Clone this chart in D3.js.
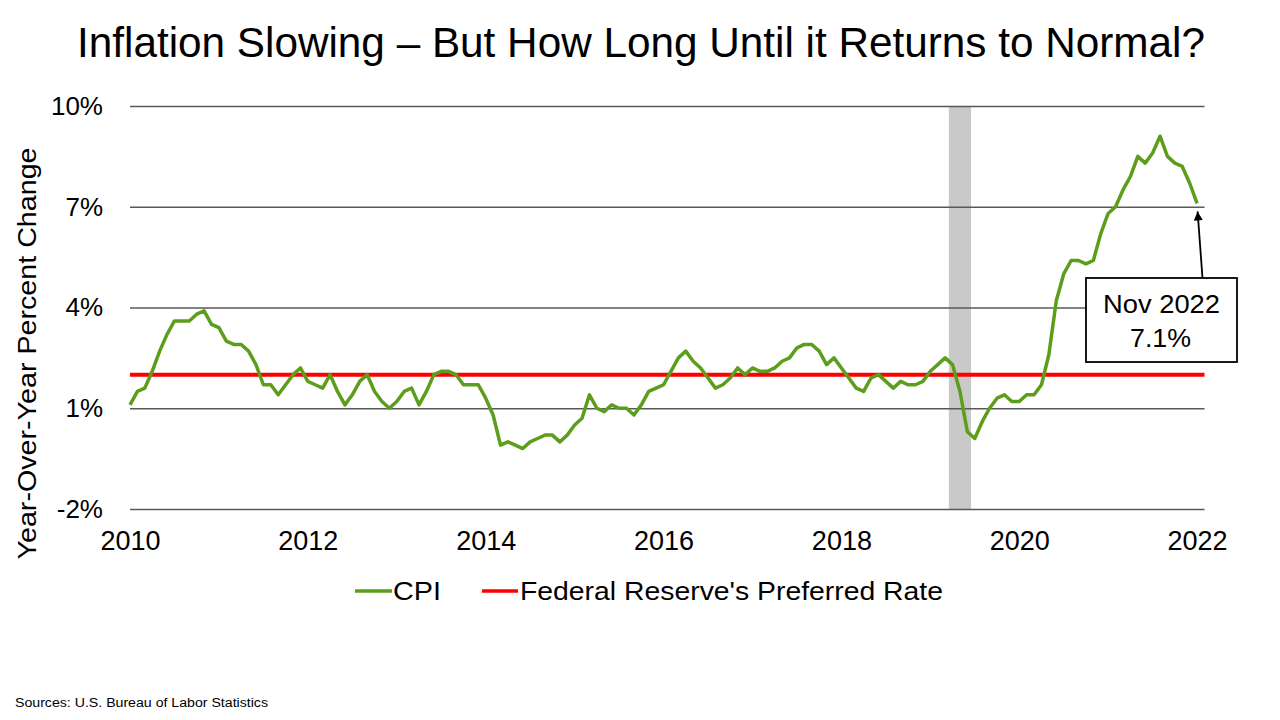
<!DOCTYPE html>
<html>
<head>
<meta charset="utf-8">
<script src="https://cdn.jsdelivr.net/npm/d3@7"></script>
<style>
  html, body { margin: 0; padding: 0; background: #fff; }
  svg { display: block; font-family: "Liberation Sans", Arial, sans-serif; }
</style>
</head>
<body>
<svg id="chart" width="1280" height="720"></svg>
<script>
// ---- Data ----
const startMonth = "2010-11";            // first observation
const cpi = [
  1.1, 1.5,
  1.6, 2.1, 2.7, 3.2, 3.6, 3.6, 3.6, 3.8, 3.9, 3.5, 3.4, 3.0,
  2.9, 2.9, 2.7, 2.3, 1.7, 1.7, 1.4, 1.7, 2.0, 2.2, 1.8, 1.7,
  1.6, 2.0, 1.5, 1.1, 1.4, 1.8, 2.0, 1.5, 1.2, 1.0, 1.2, 1.5,
  1.6, 1.1, 1.5, 2.0, 2.1, 2.1, 2.0, 1.7, 1.7, 1.7, 1.3, 0.8,
  -0.1, 0.0, -0.1, -0.2, 0.0, 0.1, 0.2, 0.2, 0.0, 0.2, 0.5, 0.7,
  1.4, 1.0, 0.9, 1.1, 1.0, 1.0, 0.8, 1.1, 1.5, 1.6, 1.7, 2.1,
  2.5, 2.7, 2.4, 2.2, 1.9, 1.6, 1.7, 1.9, 2.2, 2.0, 2.2, 2.1,
  2.1, 2.2, 2.4, 2.5, 2.8, 2.9, 2.9, 2.7, 2.3, 2.5, 2.2, 1.9,
  1.6, 1.5, 1.9, 2.0, 1.8, 1.6, 1.8, 1.7, 1.7, 1.8, 2.1, 2.3,
  2.5, 2.3, 1.5, 0.3, 0.1, 0.6, 1.0, 1.3, 1.4, 1.2, 1.2, 1.4,
  1.4, 1.7, 2.6, 4.2, 5.0, 5.4, 5.4, 5.3, 5.4, 6.2, 6.8, 7.0,
  7.5, 7.9, 8.5, 8.3, 8.6, 9.1, 8.5, 8.3, 8.2, 7.7, 7.1
];
const fedTarget = 2;
const xTickLabels = ["2010", "2012", "2014", "2016", "2018", "2020", "2022"];
const xTickEvery = 24;                   // months between labels
const yTicks = [-2, 1, 4, 7, 10];
const recessionMonths = ["2020-02", "2020-04"];
const seriesNames = ["CPI", "Federal Reserve's Preferred Rate"];
const title = "Inflation Slowing \u2013 But How Long Until it Returns to Normal?";
const yTitle = "Year-Over-Year Percent Change";
const annotationLines = ["Nov 2022", "7.1%"];
const source = "Sources: U.S. Bureau of Labor Statistics";

// ---- Setup ----
const parseM = d3.timeParse("%Y-%m");
const t0 = parseM(startMonth);
const monthIndex = s => d3.timeMonth.count(t0, parseM(s));

const svg = d3.select("#chart");
const GREEN = "#5c9e1b", RED = "#ff0000", GRID = "#595959";

const x = d3.scaleLinear().domain([0, cpi.length]).range([130, 1204.5]);
const y = d3.scaleLinear().domain([-2, 10]).range([509, 106]);

function fitText(sel, w) {
  sel.attr("textLength", w).attr("lengthAdjust", "spacingAndGlyphs");
}

// Title
svg.append("text").attr("x", 77).attr("y", 57)
  .attr("font-size", 42).attr("fill", "#000").text(title)
  .call(fitText, 1128);

// Recession band
const r0 = monthIndex(recessionMonths[0]), r1 = monthIndex(recessionMonths[1]);
svg.append("rect")
  .attr("x", x(r0 - 0.5)).attr("width", x(r1 + 0.5) - x(r0 - 0.5))
  .attr("y", y(10)).attr("height", y(-2) - y(10))
  .attr("fill", "#c9c9c9");

// Gridlines via axis
const yAxis = d3.axisLeft(y).tickValues(yTicks)
  .tickSize(-(x.range()[1] - x.range()[0]))
  .tickFormat(d => d + "%").tickPadding(27);
const gy = svg.append("g").attr("transform", `translate(${x.range()[0]},0)`).call(yAxis);
gy.select(".domain").remove();
gy.selectAll(".tick line").attr("stroke", GRID).attr("stroke-width", 1.6);
gy.selectAll(".tick text").attr("font-size", 26).attr("fill", "#000")
  .attr("font-family", "'Liberation Sans', Arial, sans-serif");

// X axis labels
const xAxis = d3.axisBottom(x)
  .tickValues(xTickLabels.map((d, i) => i * xTickEvery))
  .tickFormat((d, i) => xTickLabels[i]).tickSize(0).tickPadding(22);
const gx = svg.append("g").attr("transform", `translate(0,${y(-2)})`).call(xAxis);
gx.select(".domain").remove();
gx.selectAll(".tick text").attr("font-size", 27).attr("fill", "#000")
  .attr("font-family", "'Liberation Sans', Arial, sans-serif");

// Y title
svg.append("text")
  .attr("transform", `translate(36,${353.5}) rotate(-90)`)
  .attr("text-anchor", "middle").attr("font-size", 26).attr("fill", "#000")
  .text(yTitle).call(fitText, 412);

// Fed target line
svg.append("line")
  .attr("x1", x.range()[0]).attr("x2", x.range()[1])
  .attr("y1", y(fedTarget)).attr("y2", y(fedTarget))
  .attr("stroke", RED).attr("stroke-width", 4);

// CPI line
const line = d3.line().x((d, i) => x(i)).y(d => y(d));
svg.append("path").datum(cpi).attr("d", line)
  .attr("fill", "none").attr("stroke", GREEN).attr("stroke-width", 3.5)
  .attr("stroke-linejoin", "round");

// Annotation
const last = cpi.length - 1;
const defs = svg.append("defs");
defs.append("marker").attr("id", "arrow").attr("viewBox", "0 0 10 10")
  .attr("refX", 10).attr("refY", 5).attr("markerWidth", 7).attr("markerHeight", 7)
  .attr("orient", "auto-start-reverse").attr("markerUnits", "userSpaceOnUse")
  .append("path").attr("d", "M0,0 L10,5 L0,10 z").attr("fill", "#000");
defs.select("marker").attr("markerWidth", 12).attr("markerHeight", 9);

const boxX = 1086, boxY = 278, boxW = 151, boxH = 84;
svg.append("line")
  .attr("x1", 1202.5).attr("y1", boxY)
  .attr("x2", x(last) + 0.5).attr("y2", y(cpi[last]) + 8)
  .attr("stroke", "#000").attr("stroke-width", 1.8)
  .attr("marker-end", "url(#arrow)");
svg.append("rect").attr("x", boxX).attr("y", boxY)
  .attr("width", boxW).attr("height", boxH)
  .attr("fill", "#fff").attr("stroke", "#000").attr("stroke-width", 1.8);
svg.append("text").attr("x", boxX + boxW / 2).attr("y", 313)
  .attr("text-anchor", "middle").attr("font-size", 26).attr("fill", "#000")
  .text(annotationLines[0]).call(fitText, 117);
svg.append("text").attr("x", boxX + boxW / 2 - 1).attr("y", 347)
  .attr("text-anchor", "middle").attr("font-size", 26).attr("fill", "#000")
  .text(annotationLines[1]).call(fitText, 61);

// Legend
const legend = svg.append("g");
const legItems = [
  { name: seriesNames[0], color: GREEN, x1: 355, x2: 392, tx: 393, tw: 48 },
  { name: seriesNames[1], color: RED, x1: 482, x2: 518, tx: 520, tw: 423 }
];
legItems.forEach(it => {
  legend.append("line").attr("x1", it.x1).attr("x2", it.x2)
    .attr("y1", 591).attr("y2", 591)
    .attr("stroke", it.color).attr("stroke-width", 3.5);
  legend.append("text").attr("x", it.tx).attr("y", 600)
    .attr("font-size", 26).attr("fill", "#000").text(it.name)
    .call(fitText, it.tw);
});

// Source
svg.append("text").attr("x", 15).attr("y", 707)
  .attr("font-size", 12).attr("fill", "#000").text(source)
  .call(fitText, 253);
</script>
</body>
</html>
